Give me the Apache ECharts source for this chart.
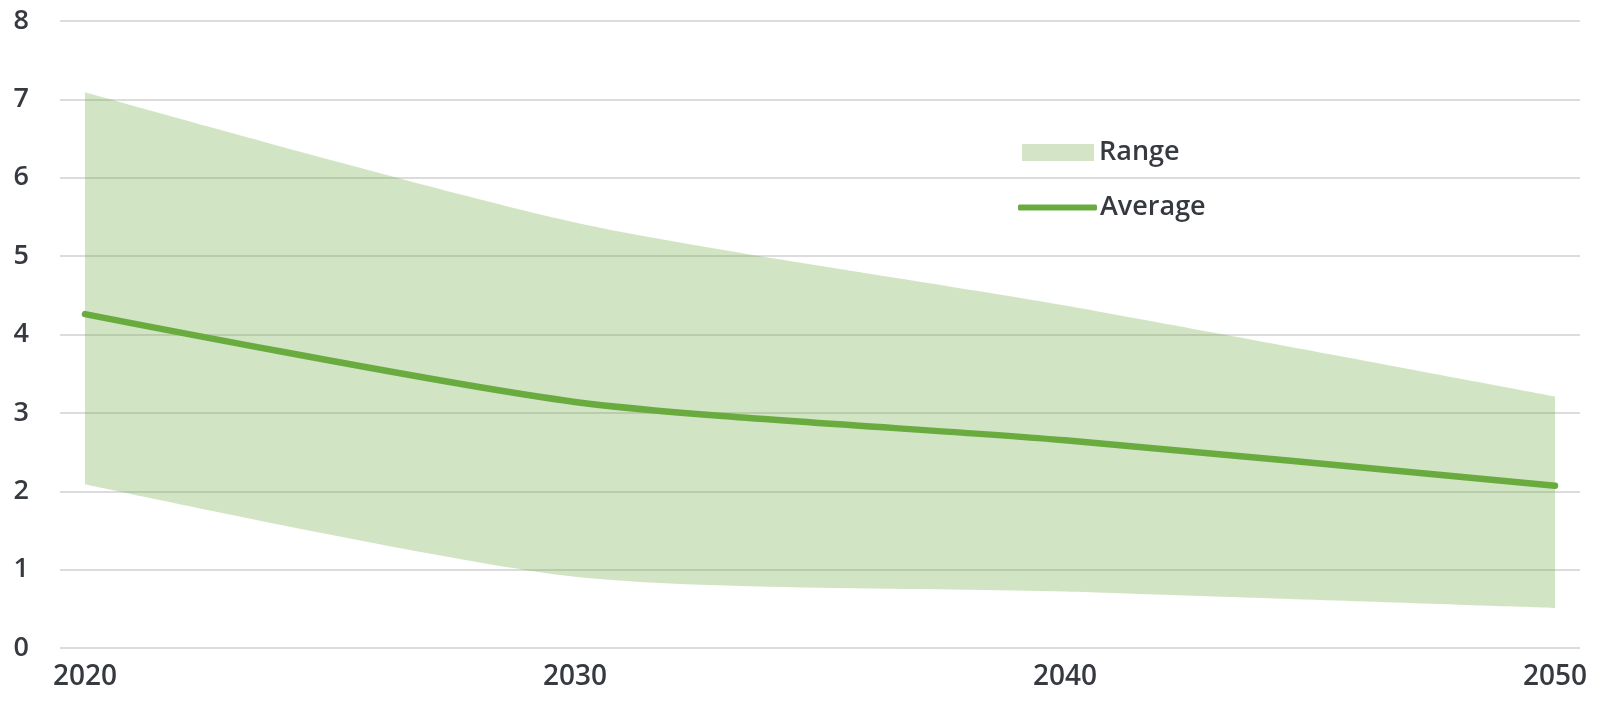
<!DOCTYPE html>
<html>
<head>
<meta charset="utf-8">
<script src="https://cdn.jsdelivr.net/npm/echarts@6/dist/echarts.min.js"></script>
<style>html,body{margin:0;padding:0;background:#fff}#c{width:1600px;height:701px}</style>
</head>
<body>
<div id="c"></div>
<script>
const years = [2020, 2030, 2040, 2050];
const rangeLow = [2.09, 0.91, 0.72, 0.51];
const rangeHigh = [7.09, 5.43, 4.37, 3.21];
const average = [4.26, 3.14, 2.65, 2.07];
const yTicks = [0, 1, 2, 3, 4, 5, 6, 7, 8];

const FONT = '"Open Sans", sans-serif';
const TXT = '#363a40';
// value first, year second, so that stacking acts on the value dimension
const lowData = years.map((y, i) => [rangeLow[i], y]);
const diffData = years.map((y, i) => [rangeHigh[i] - rangeLow[i], y]);
const avgData = years.map((y, i) => [y, average[i]]);

const chart = echarts.init(document.getElementById('c'), null, {renderer: 'canvas'});
chart.setOption({
  animation: false,
  backgroundColor: '#fff',
  grid: {left: 60, right: 20, top: 21, bottom: 53, containLabel: false},
  legend: [
    {
      data: [{name: 'Range', icon: 'rect', itemStyle: {color: '#d3e5c6'}}],
      left: 1017, top: 134, itemWidth: 72, itemHeight: 17,
      textStyle: {fontFamily: FONT, fontSize: 27, fontWeight: 600, color: TXT, padding: [0,0,0,0]}
    },
    {
      data: [{name: 'Average', icon: 'roundRect', itemStyle: {color: '#6aab3f'}}],
      left: 1013, top: 189, itemWidth: 79, itemHeight: 6,
      textStyle: {fontFamily: FONT, fontSize: 27, fontWeight: 600, color: TXT, padding: [0,0,0,-2]}
    }
  ],
  xAxis: {
    type: 'value',
    min: 2019.49, max: 2050.51,
    axisLine: {show: false},
    axisTick: {show: false},
    splitLine: {show: false},
    axisLabel: {
      customValues: years,
      formatter: v => String(v),
      fontFamily: FONT, fontSize: 28, fontWeight: 600, color: TXT, margin: 15
    }
  },
  yAxis: {
    type: 'value',
    min: 0, max: 8, interval: 1,
    axisLine: {show: false},
    axisTick: {show: false},
    splitLine: {lineStyle: {color: '#dcdcdc', width: 2}},
    axisLabel: {
      customValues: yTicks,
      fontFamily: FONT, fontSize: 27, fontWeight: 600, color: TXT, margin: 31
    }
  },
  series: [
    {
      name: 'low', type: 'line', stack: 'range', data: lowData,
      encode: {x: 1, y: 0},
      smooth: 0.25, symbol: 'none', lineStyle: {width: 0}, silent: true
    },
    {
      name: 'Range', type: 'line', stack: 'range', data: diffData,
      encode: {x: 1, y: 0},
      smooth: 0.25, symbol: 'none', lineStyle: {width: 0},
      itemStyle: {color: '#d3e5c6'},
      areaStyle: {color: 'rgba(112,173,71,0.32)', opacity: 1}, silent: true
    },
    {
      name: 'Average', type: 'line', data: avgData,
      smooth: 0.25, symbol: 'none',
      itemStyle: {color: '#6aab3f'},
      lineStyle: {color: '#6aab3f', width: 6.5, cap: 'round', join: 'round'}, z: 5
    }
  ]
});
</script>
</body>
</html>
